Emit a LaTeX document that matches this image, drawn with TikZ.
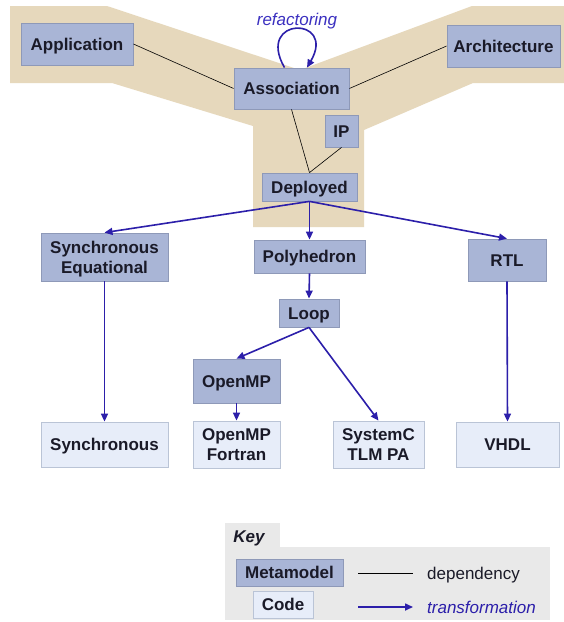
\documentclass[tikz,border=0pt]{standalone}
\usepackage{fontspec}
\setmainfont{Liberation Sans}
\usetikzlibrary{arrows.meta}
\definecolor{mmfill}{HTML}{A9B5D6}
\definecolor{mmdraw}{HTML}{8E99B8}
\definecolor{cdfill}{HTML}{E7EDF9}
\definecolor{cddraw}{HTML}{BAC4D6}
\definecolor{tanbg}{HTML}{E6D8BC}
\definecolor{keybg}{HTML}{E9E9E9}
\definecolor{trblue}{HTML}{2C1FAA}
\definecolor{refblue}{HTML}{3B30C0}
\definecolor{txt}{HTML}{1A1A28}
\begin{document}
\begin{tikzpicture}[x=1pt,y=-1pt,
  box/.style={rectangle, inner sep=0pt, align=center, font=\fontsize{17}{20}\selectfont\bfseries, text=txt, line width=0.8pt, text height=12.2pt, text depth=0pt},
  twoline/.style={text height=32.2pt, text depth=0pt},
  meta/.style={box, fill=mmfill, draw=mmdraw},
  code/.style={box, fill=cdfill, draw=cddraw},
  dep/.style={draw=black, line width=0.6pt},
  trans/.style={draw=trblue, line width=1.6pt, -{Triangle[length=8pt,width=7pt]}},
  sz/.style 2 args={minimum width=#1pt, minimum height=#2pt},
  plain/.style={font=\fontsize{17}{20}\selectfont, text=txt, inner sep=0pt, text height=12.2pt, text depth=0pt}
]
\useasboundingbox (0,0) rectangle (564,622);
\fill[white] (0,0) rectangle (564,622);

% tan background (Y shape)
\fill[tanbg] (10,6) -- (107,6) -- (300,70) -- (472,6) -- (564,6) -- (564,83)
  -- (473,83) -- (364,130) -- (364,227) -- (253,227) -- (253,126)
  -- (112,83) -- (10,83) -- cycle;

% key panel
\fill[keybg] (225,523) rectangle (280,547);
\fill[keybg] (225,547) rectangle (550,620);

% nodes
\node[meta, sz={112}{42}] (app) at (77,44) {Application};
\node[meta, sz={115}{41}] (assoc) at (291.5,88.5) {Association};
\node[meta, sz={113}{42}] (arch) at (503.5,46) {Architecture};
\node[meta, sz={33}{32}] (ip) at (341.5,131) {IP};
\node[meta, sz={95}{28}] (depl) at (309.5,187) {Deployed};
\node[meta, twoline, sz={127}{48}] (synceq) at (104.5,257) {Synchronous\\Equational};
\node[meta, sz={111}{33}] (poly) at (309.5,256.5) {Polyhedron};
\node[meta, sz={78}{42}] (rtl) at (507,260) {RTL};
\node[meta, sz={60}{28}] (loop) at (309,313) {Loop};
\node[meta, sz={87}{44}] (omp) at (236.5,381) {OpenMP};
\node[code, sz={127}{45}] (sync) at (104.5,444.5) {Synchronous};
\node[code, twoline, sz={87}{47}] (fort) at (236.5,444.5) {OpenMP\\Fortran};
\node[code, twoline, sz={91}{47}] (sysc) at (378.5,444.5) {SystemC\\TLM PA};
\node[code, sz={103}{45}] (vhdl) at (507.5,444.5) {VHDL};

\node[font=\fontsize{17}{20}\selectfont\itshape, text=refblue, inner sep=0pt, text height=12.2pt, text depth=0pt] (reflbl) at (297,19) {refactoring};

% dependencies
\draw[dep] (app.east) -- (assoc.west);
\draw[dep] (assoc.east) -- (arch.west);
\draw[dep] (assoc.south) -- (depl.north);
\draw[dep] (ip.south) -- (depl.north);

% transformations
\draw[trans] ([xshift=-7pt]assoc.north) .. controls (255,16) and (337,16) .. ([xshift=15.5pt]assoc.north);
\draw[trans] (depl.south) -- (synceq.north);
\draw[trans] (depl.south) -- (poly.north);
\draw[trans] (depl.south) -- (rtl.north);
\draw[trans] (synceq.south) -- (sync.north);
\draw[trans] (poly.south) -- (loop.north);
\draw[trans] (loop.south) -- (omp.north);
\draw[trans] (loop.south) -- (sysc.north);
\draw[trans] (omp.south) -- (fort.north);
\draw[trans] (rtl.south) -- (vhdl.north);

% key
\node[font=\fontsize{17}{20}\selectfont\bfseries\itshape, text=txt, inner sep=0pt, text height=12.2pt, text depth=0pt] (keylbl) at (249,536) {Key};
\node[meta, sz={107}{27}] (kmeta) at (289.5,572.5) {Metamodel};
\node[code, sz={60}{27}] (kcode) at (283,604.5) {Code};
\coordinate (d1) at (358,573);
\coordinate (d2) at (413,573);
\draw[dep] (d1) -- (d2);
\node[plain, anchor=west] (deptxt) at (427,573) {dependency};
\coordinate (t1) at (358,607);
\coordinate (t2) at (413,607);
\draw[trans] (t1) -- (t2);
\node[plain, anchor=west, font=\fontsize{17}{20}\selectfont\itshape, text=trblue] (trtxt) at (427,607) {transformation};
\end{tikzpicture}
\end{document}
